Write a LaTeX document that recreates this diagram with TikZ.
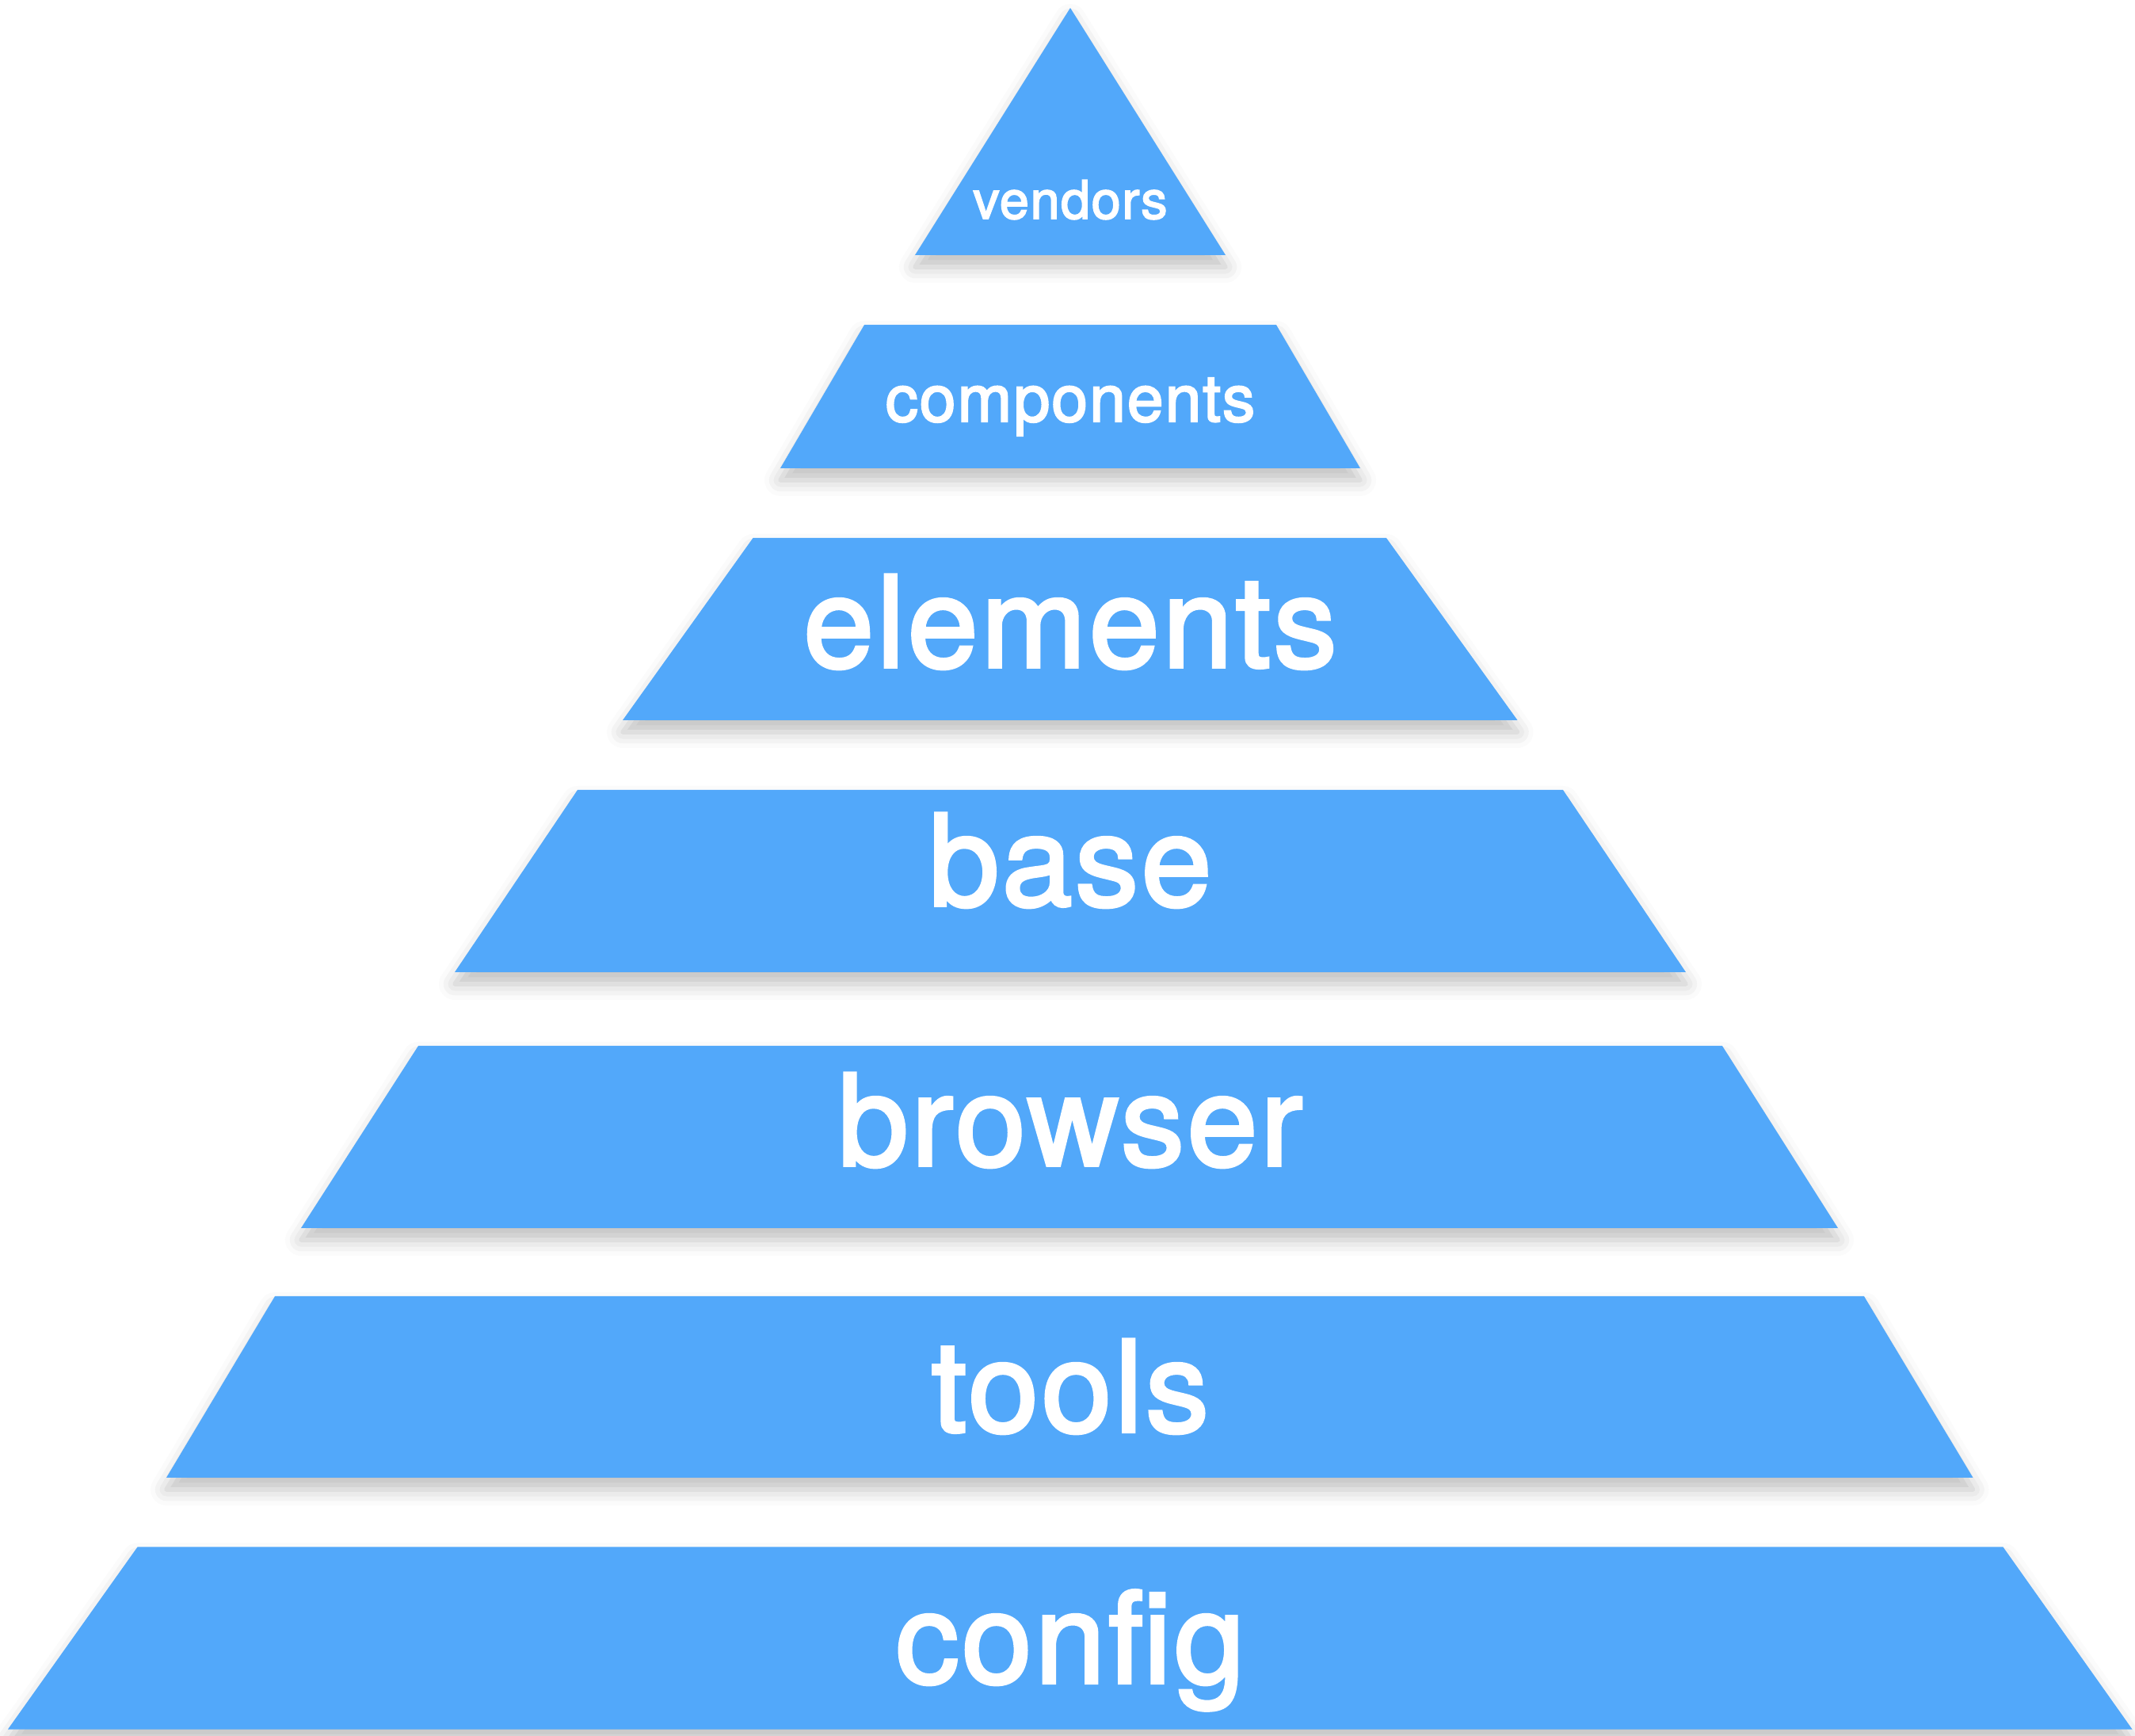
\documentclass[tikz,border=0pt]{standalone}
\usepackage{fontspec}
\setmainfont{TeX Gyre Heros}
\newfontface\tierface{TeX Gyre Heros}[FakeBold=2.5, LetterSpace=2.2]
\usepackage{tikz}
\usetikzlibrary{shadows.blur}
\definecolor{pyBlue}{HTML}{52A8FA}

\begin{document}
\begin{tikzpicture}[
  tier/.style={fill=pyBlue, blur shadow={shadow xshift=0pt, shadow yshift=-0.15cm,
               shadow blur radius=0.2cm, shadow opacity=25}},
  tag/.style={text=white, anchor=base, inner sep=0pt,
              font=\tierface\fontsize{#1}{#1}\selectfont}
]
  \useasboundingbox (0,0) rectangle (26.95,21.90);

  % Top
  \fill[tier] (13.51,21.80) -- (15.47,18.68) -- (11.55,18.68) -- cycle;
  \fill[tier] (10.91,17.80) -- (16.11,17.80) -- (17.17,15.99) -- (9.85,15.99) -- cycle;
  \fill[tier] (9.505,15.11) -- (17.50,15.11) -- (19.155,12.81) -- (7.86,12.81) -- cycle;
  % Middle
  \fill[tier] (7.29,11.93) -- (19.73,11.93) -- (21.28,9.63) -- (5.74,9.63) -- cycle;
  \fill[tier] (5.28,8.70) -- (21.74,8.70) -- (23.20,6.40) -- (3.80,6.40) -- cycle;
  % Bottom
  \fill[tier] (3.47,5.54) -- (23.53,5.54) -- (24.905,3.25) -- (2.10,3.25) -- cycle;
  \fill[tier] (1.735,2.375) -- (25.285,2.375) -- (26.915,0.075) -- (0.10,0.075) -- cycle;

  \node[tag=19] (vendors) at (13.51,19.14) {vendors};
  \node[tag=23.5] (components) at (13.51,16.58) {components};
  \node[tag=45.5] (elements) at (13.51,13.48) {elements};
  \node[tag=45.5] (base) at (13.51,10.47) {base};
  \node[tag=45.5] (browser) at (13.51,7.19) {browser};
  \node[tag=45.5] (tools) at (13.51,3.83) {tools};
  \node[tag=45.5] (config) at (13.51,0.66) {config};
\end{tikzpicture}
\end{document}
